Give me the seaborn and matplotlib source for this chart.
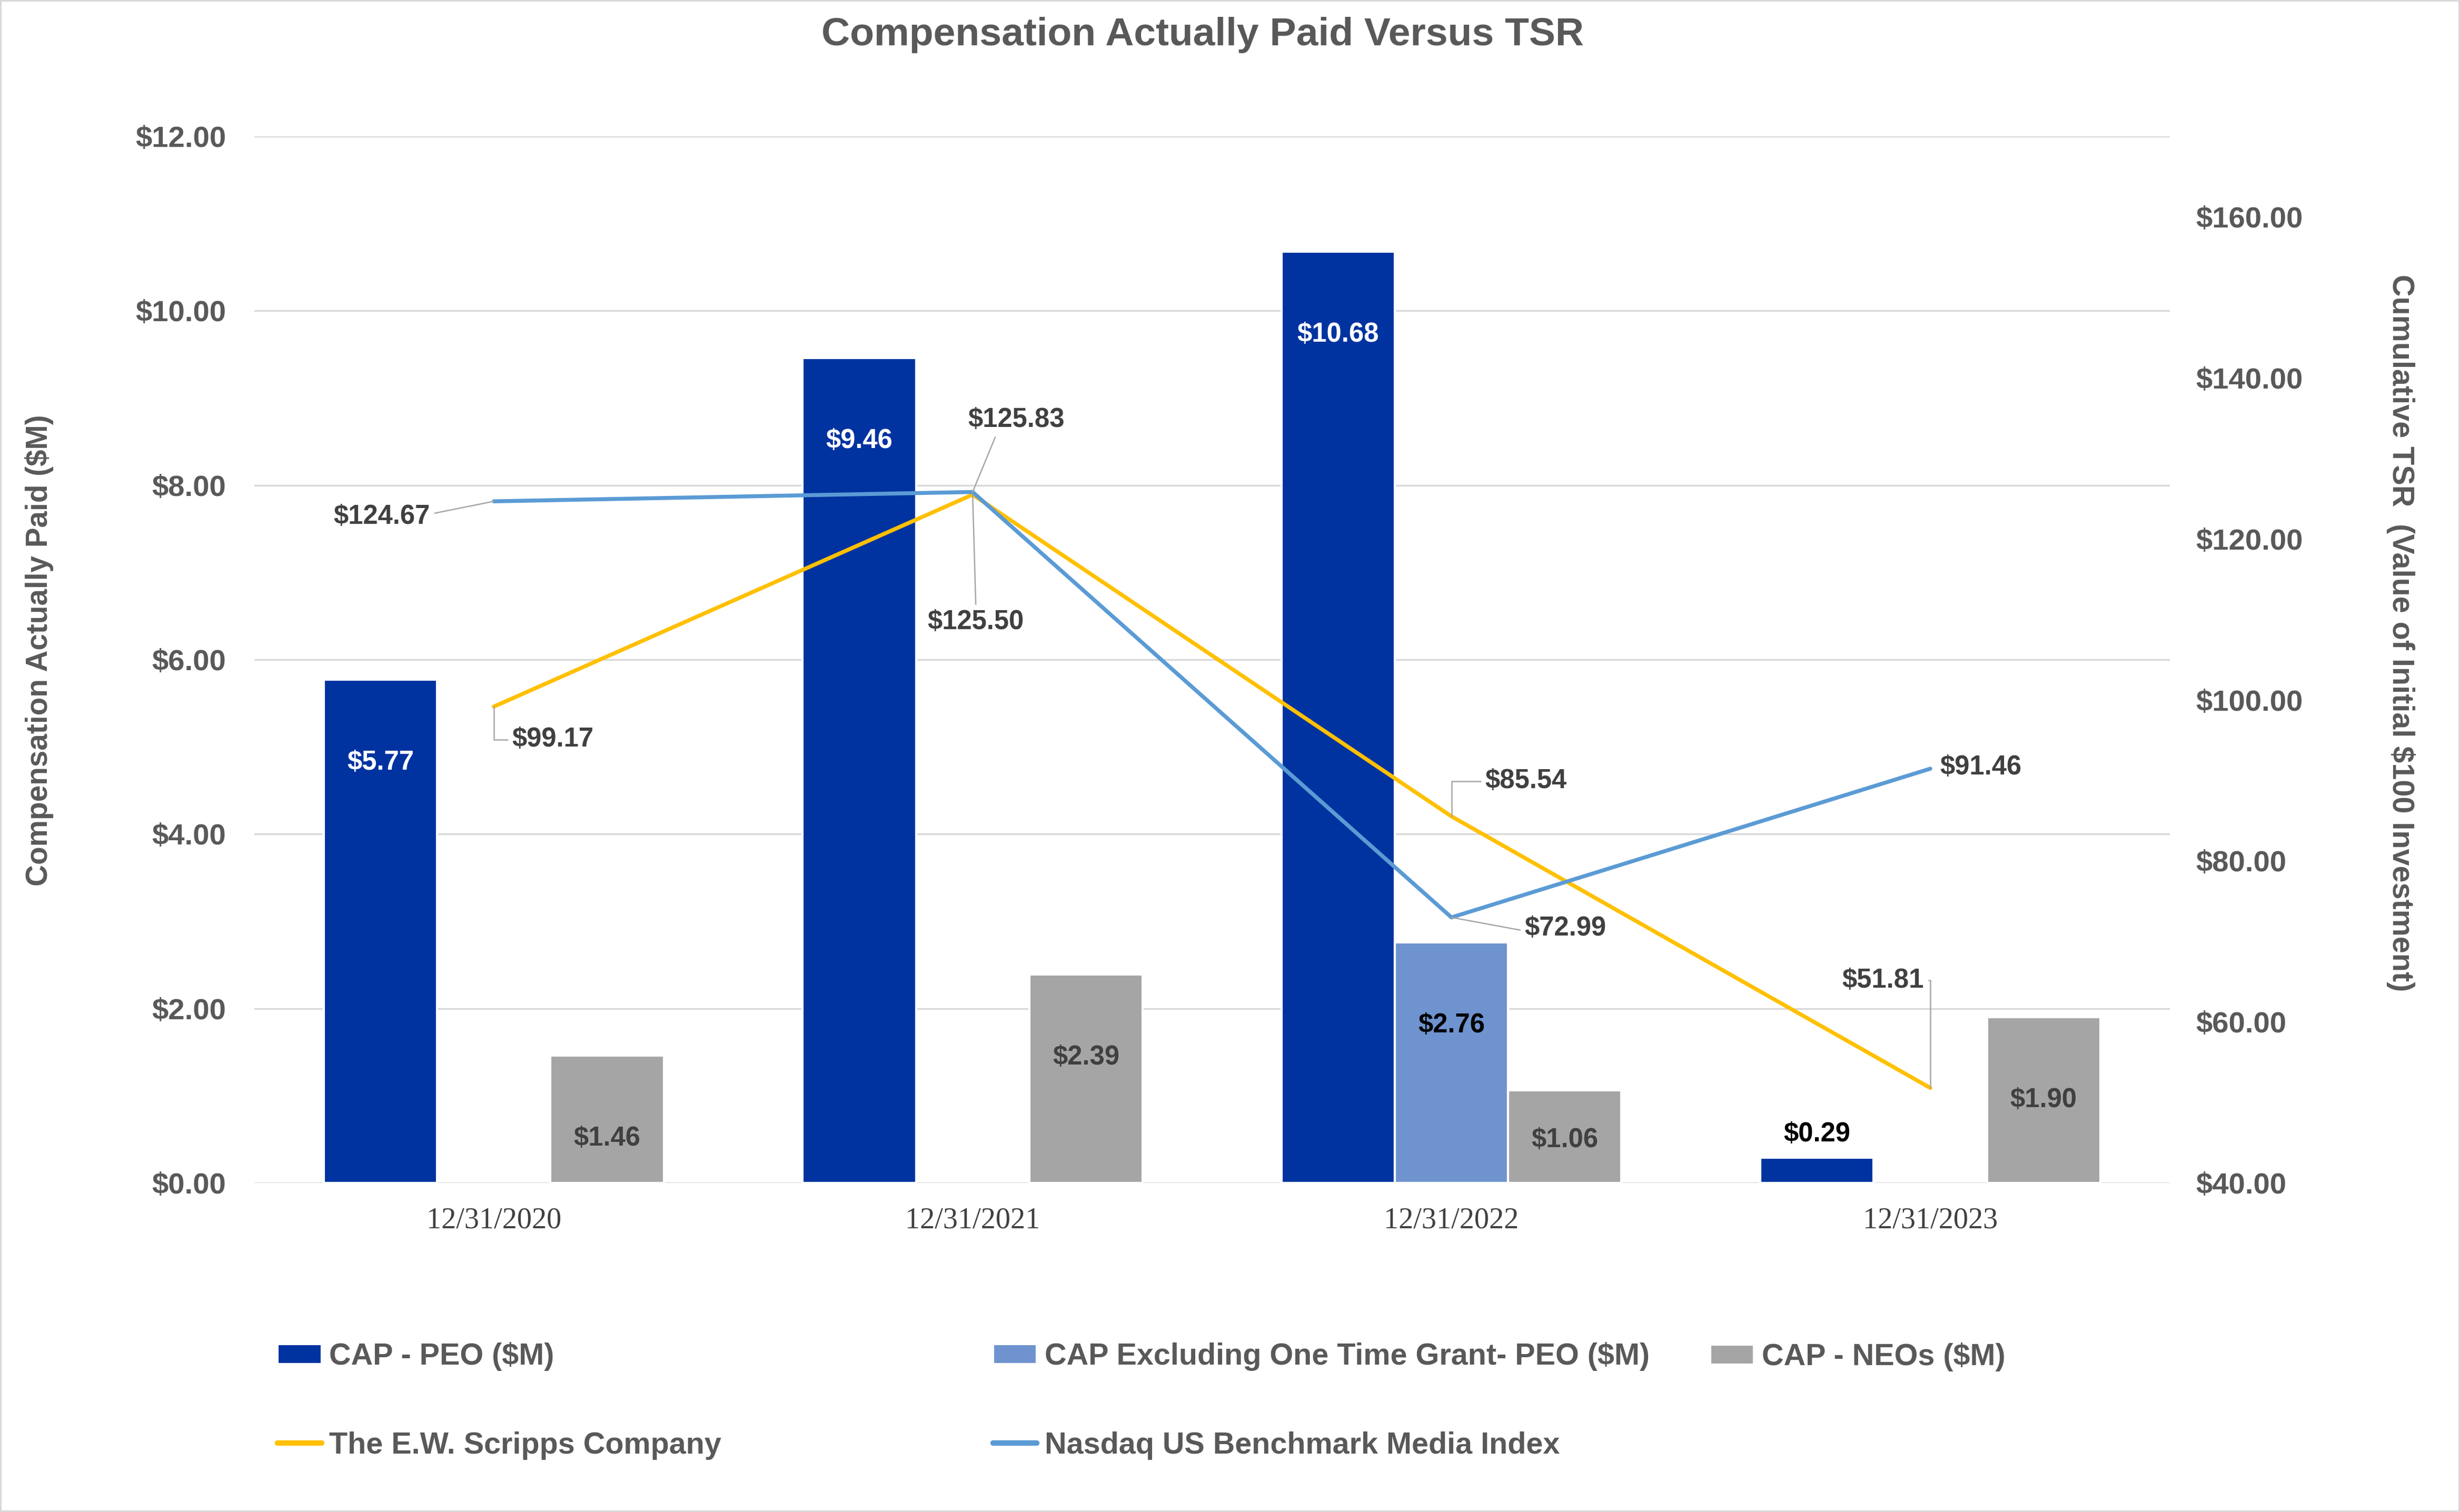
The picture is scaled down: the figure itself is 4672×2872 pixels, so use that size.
import numpy as np
import pandas as pd
import matplotlib
matplotlib.use("Agg")
import matplotlib.pyplot as plt
import seaborn as sns
from matplotlib.patches import Patch, Rectangle
from matplotlib.lines import Line2D
from matplotlib.ticker import FuncFormatter

# chart data
dates = ["12/31/2020", "12/31/2021", "12/31/2022", "12/31/2023"]
cap_peo = [5.77, 9.46, 10.68, 0.29]
cap_excl_grant = [np.nan, np.nan, 2.76, np.nan]
cap_neos = [1.46, 2.39, 1.06, 1.90]
tsr_scripps = [99.17, 125.50, 85.54, 51.81]
tsr_nasdaq = [124.67, 125.83, 72.99, 91.46]

bar_names = ["CAP - PEO ($M)", "CAP Excluding One Time Grant- PEO ($M)", "CAP - NEOs ($M)"]
line_names = ["The E.W. Scripps Company", "Nasdaq US Benchmark Media Index"]
left_ticks = [0, 2, 4, 6, 8, 10, 12]
right_ticks = [40, 60, 80, 100, 120, 140, 160]

bar_colors = ["#0033A0", "#6F93CF", "#A5A5A5"]
line_colors = ["#FFC000", "#5B9BD5"]
grey_text = "#595959"
label_text = "#404040"

sns.set_theme(style="white")
plt.rcParams["font.family"] = ["Liberation Sans", "DejaVu Sans"]

bars = pd.DataFrame({
    "date": dates * 3,
    "series": np.repeat(bar_names, len(dates)),
    "value": cap_peo + cap_excl_grant + cap_neos,
}).dropna()
lines = pd.DataFrame({
    "pos": list(range(len(dates))) * 2,
    "series": np.repeat(line_names, len(dates)),
    "value": tsr_scripps + tsr_nasdaq,
})

fig = plt.figure(figsize=(4672 / 300, 2872 / 300), dpi=300)
ax = fig.add_axes([0.1034, 0.2176, 0.7786, 0.6922])

sns.barplot(data=bars, x="date", y="value", hue="series", order=dates,
            hue_order=bar_names, palette=dict(zip(bar_names, bar_colors)),
            width=0.71, errorbar=None, saturation=1, legend=False, ax=ax)

ax2 = ax.twinx()
sns.lineplot(data=lines, x="pos", y="value", hue="series", hue_order=line_names,
             palette=dict(zip(line_names, line_colors)), lw=1.8, sort=False,
             legend=False, ax=ax2)

# axes styling
ax.set_xlim(-0.5, len(dates) - 0.5)
ax.set_ylim(0, 12)
ax.set_yticks(left_ticks)
ax2.set_ylim(40, 170)
ax2.set_yticks(right_ticks)
money = FuncFormatter(lambda v, p: f"${v:.2f}")
ax.yaxis.set_major_formatter(money)
ax2.yaxis.set_major_formatter(money)
ax.yaxis.grid(True, color="#D9D9D9", lw=0.8)
ax.set_axisbelow(True)
for a in (ax, ax2):
    a.set_xlabel("")
    a.set_ylabel("")
    for s in a.spines.values():
        s.set_visible(False)
ax.tick_params(axis="y", length=0, pad=13, labelsize=13.5, labelcolor=grey_text)
ax2.tick_params(axis="y", length=0, pad=12, labelsize=13.5, labelcolor=grey_text)
for t in ax.get_yticklabels() + ax2.get_yticklabels():
    t.set_fontweight("bold")
ax.tick_params(axis="x", length=0, pad=11, labelsize=13.5, labelcolor=label_text)
for t in ax.get_xticklabels():
    t.set_fontfamily(["Liberation Serif", "DejaVu Serif"])

# bar data labels
for k, cont in enumerate(ax.containers):
    for bar in cont:
        h = bar.get_height()
        if np.isnan(h):
            continue
        x = bar.get_x() + bar.get_width() / 2
        if h < 1.0:
            y, col = h + 0.27, "black"
        else:
            y = max(h - 0.95, 0.49)
            col = ["white", "black", label_text][k]
        ax.text(x, y, f"${h:.2f}", ha="center", va="center", fontsize=12.2,
                fontweight="bold", color=col)

# line data labels with leader lines
lead = dict(arrowstyle="-", color="#A6A6A6", lw=0.6, shrinkA=0, shrinkB=0)
notes = [
    # series values, index, offset (pt), relpos, connection
    (tsr_nasdaq, 0, (-51, -7), (1.0, 0.6), "arc3"),
    (tsr_scripps, 0, (27, -15), (0.0, 0.5), "angle,angleA=0,angleB=90,rad=0"),
    (tsr_nasdaq, 1, (20, 33), (0.3, 0.0), "arc3"),
    (tsr_scripps, 1, (1.5, -58), (0.5, 1.0), "arc3"),
    (tsr_scripps, 2, (34, 16), (0.0, 0.5), "angle,angleA=0,angleB=90,rad=0"),
    (tsr_nasdaq, 2, (52, -5), (0.0, 0.4), "arc3"),
    (tsr_nasdaq, 3, (23, 0.7), None, None),
    (tsr_scripps, 3, (-21.5, 49), (1.0, 0.5), "angle,angleA=0,angleB=90,rad=0"),
]
for vals, i, off, rel, conn in notes:
    kw = {}
    if rel is not None:
        kw["arrowprops"] = dict(lead, relpos=rel, connectionstyle=conn)
    ax2.annotate(f"${vals[i]:.2f}", xy=(i, vals[i]), xytext=off,
                 textcoords="offset points", ha="center", va="center",
                 fontsize=12.2, fontweight="bold", color=label_text, **kw)

# titles
fig.text(0.4889, 0.977, "Compensation Actually Paid Versus TSR", ha="center",
         va="center", fontsize=18, fontweight="bold", color=grey_text)
fig.text(0.016, 0.570, "Compensation Actually Paid ($M)", rotation=90,
         ha="center", va="center", fontsize=13.6, fontweight="bold", color=grey_text)
fig.text(0.976, 0.5815, "Cumulative TSR  (Value of Initial $100 Investment)",
         rotation=270, ha="center", va="center", fontsize=13.8,
         fontweight="bold", color=grey_text)

# legend, laid out in Excel-like fixed columns
h_bars = [Patch(facecolor=c, label=n) for c, n in zip(bar_colors, bar_names)]
h_lines = [Line2D([0], [0], color=c, lw=2.5, solid_capstyle="round", label=n)
           for c, n in zip(line_colors, line_names)]
leg_kw = dict(frameon=False, borderpad=0, borderaxespad=0, handlelength=1.45,
              handleheight=0.64, handletextpad=0.25, labelspacing=2.0,
              prop=dict(weight="bold", size=13.8), labelcolor=grey_text,
              loc="center left")
fig.legend(handles=[h_bars[0], h_lines[0]], bbox_to_anchor=(0.1129, 0.0735), **leg_kw)
fig.legend(handles=[h_bars[1], h_lines[1]], bbox_to_anchor=(0.4037, 0.0735), **leg_kw)
fig.legend(handles=[h_bars[2]], bbox_to_anchor=(0.6952, 0.1024), **leg_kw)

fig.patches.append(Rectangle((0, 0), 1, 1, transform=fig.transFigure, fill=False,
                             edgecolor="#D9D9D9", lw=1.5))

fig.savefig("out.png", dpi=300)
